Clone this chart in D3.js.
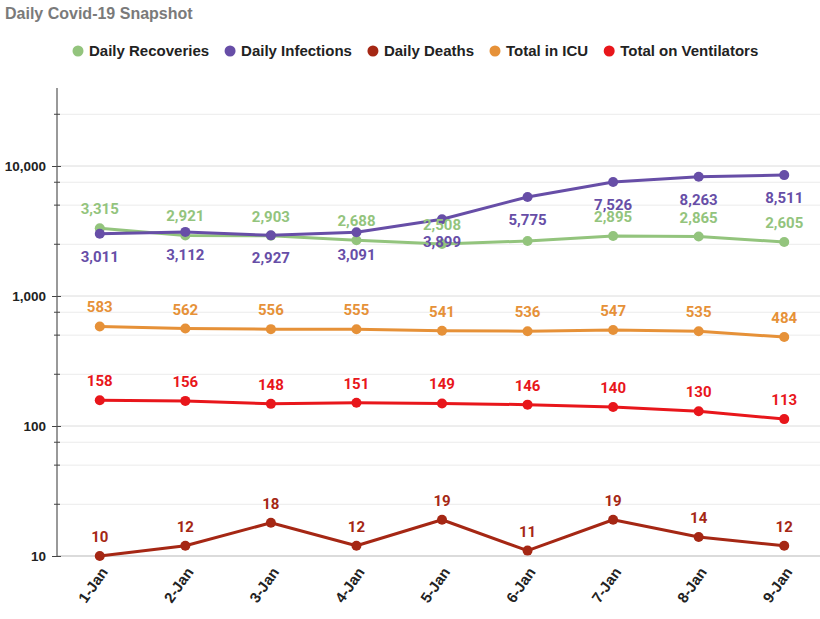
<!DOCTYPE html>
<html><head><meta charset="utf-8">
<script src="https://cdn.jsdelivr.net/npm/d3@7"></script>
<style>body{margin:0;background:#fff;}svg{display:block;}</style>
</head><body>
<svg id="chart" width="820" height="619"></svg>
<script>
const categories = ["1-Jan","2-Jan","3-Jan","4-Jan","5-Jan","6-Jan","7-Jan","8-Jan","9-Jan"];
const dailyRecoveries = [3315, 2921, 2903, 2688, 2508, 2650, 2895, 2865, 2605];
const dailyInfections = [3011, 3112, 2927, 3091, 3899, 5775, 7526, 8263, 8511];
const dailyDeaths = [10, 12, 18, 12, 19, 11, 19, 14, 12];
const totalICU = [583, 562, 556, 555, 541, 536, 547, 535, 484];
const totalVentilators = [158, 156, 148, 151, 149, 146, 140, 130, 113];
const seriesNames = ["Daily Recoveries","Daily Infections","Daily Deaths","Total in ICU","Total on Ventilators"];
const seriesColors = ["#93c47d","#674ea7","#a52714","#e69138","#e8161b"];
const majorTicks = [10, 100, 1000, 10000];
const minorTicks = [25, 50, 75, 250, 500, 750, 2500, 5000, 7500, 25000];
// label hidden in the reference for recoveries on 6-Jan (covered by another label)
const hiddenRecoveryLabels = ["6-Jan"];

const series = [
  {name: seriesNames[0], color: seriesColors[0], values: dailyRecoveries, below: false, hide: hiddenRecoveryLabels},
  {name: seriesNames[1], color: seriesColors[1], values: dailyInfections, below: true, hide: []},
  {name: seriesNames[2], color: seriesColors[2], values: dailyDeaths, below: false, hide: []},
  {name: seriesNames[3], color: seriesColors[3], values: totalICU, below: false, hide: []},
  {name: seriesNames[4], color: seriesColors[4], values: totalVentilators, below: false, hide: []}
];

const svg = d3.select("#chart");
const pLeft = 57, pRight = 827, pTop = 88, pBottom = 556;

const x = d3.scalePoint().domain(categories).range([pLeft, pRight]).padding(0.5);
const y = d3.scaleLog().domain([10, Math.pow(10, 4.6)]).range([pBottom, pTop]);

// title
svg.append("text").attr("x", 5).attr("y", 19)
  .attr("font-family", "Liberation Sans, Arial, sans-serif").attr("font-weight", "bold")
  .attr("font-size", 16).attr("fill", "#7a7a7a").text("Daily Covid-19 Snapshot");

// gridlines
svg.append("g").selectAll("line").data(minorTicks).join("line")
  .attr("x1", pLeft).attr("x2", 820).attr("y1", d => y(d)).attr("y2", d => y(d))
  .attr("stroke", "#ebebeb").attr("stroke-width", 1);
svg.append("g").selectAll("line").data(majorTicks).join("line")
  .attr("x1", pLeft).attr("x2", 820).attr("y1", d => y(d)).attr("y2", d => y(d))
  .attr("stroke", d => d === 10 ? "#cfcfcf" : "#dcdcdc").attr("stroke-width", d => d === 10 ? 1.5 : 1);

// y axis
const yAxis = d3.axisLeft(y).tickValues(majorTicks).tickFormat(d3.format(",")).tickSize(5).tickPadding(6);
const gy = svg.append("g").attr("transform", `translate(${pLeft},0)`).call(yAxis);
gy.select(".domain").remove();
gy.selectAll(".tick line").attr("stroke", "#444").attr("x2", -5).attr("x1", 4);
gy.selectAll(".tick text").attr("font-family", "Liberation Sans, Arial, sans-serif")
  .attr("font-weight", "bold").attr("font-size", 13.5).attr("fill", "#222");
svg.append("line").attr("x1", pLeft).attr("x2", pLeft).attr("y1", pTop).attr("y2", pBottom)
  .attr("stroke", "#555").attr("stroke-width", 1.2);
svg.append("g").selectAll("line").data(minorTicks).join("line")
  .attr("x1", pLeft - 3).attr("x2", pLeft + 3).attr("y1", d => y(d)).attr("y2", d => y(d))
  .attr("stroke", "#444");

// x axis labels
const xAxis = d3.axisBottom(x).tickSize(0).tickPadding(0);
const gx = svg.append("g").attr("transform", `translate(0,${pBottom})`).call(xAxis);
gx.select(".domain").remove();
gx.selectAll(".tick text")
  .attr("font-family", "Liberation Sans, Arial, sans-serif").attr("font-weight", "bold")
  .attr("font-size", 15).attr("fill", "#222")
  .attr("text-anchor", "end").attr("dy", "0.35em")
  .attr("transform", "translate(4,13) rotate(-55)");

// lines and points
const line = d3.line().x((d, i) => x(categories[i])).y(d => y(d));
series.forEach(s => {
  const g = svg.append("g");
  g.append("path").attr("d", line(s.values)).attr("fill", "none")
    .attr("stroke", s.color).attr("stroke-width", 3).attr("stroke-linejoin", "round");
  g.selectAll("circle").data(s.values).join("circle")
    .attr("cx", (d, i) => x(categories[i])).attr("cy", d => y(d)).attr("r", 5)
    .attr("fill", s.color);
});
// labels
series.forEach(s => {
  const labelData = s.values.map((v, i) => ({cat: categories[i], v}))
    .filter(d => !s.hide.includes(d.cat));
  svg.append("g").selectAll("text").data(labelData).join("text")
    .attr("x", d => x(d.cat)).attr("y", d => y(d.v) + (s.below ? 28 : -14))
    .attr("text-anchor", "middle")
    .attr("font-family", "Roboto, sans-serif").attr("font-weight", "bold").attr("font-size", 15)
    .attr("fill", s.color).text(d => d3.format(",")(d.v));
});

// legend
const legend = svg.append("g").attr("transform", "translate(0,51)");
let lx = 72;
seriesNames.forEach((n, i) => {
  const item = legend.append("g");
  item.append("circle").attr("cx", lx + 6).attr("cy", 0).attr("r", 5.5).attr("fill", seriesColors[i]);
  const t = item.append("text").attr("x", lx + 17).attr("y", 0).attr("dy", "0.35em")
    .attr("font-family", "Liberation Sans, Arial, sans-serif").attr("font-weight", "bold")
    .attr("font-size", 15).attr("fill", "#222").text(n);
  lx += 17 + t.node().getComputedTextLength() + 15;
});
</script>
</body></html>
